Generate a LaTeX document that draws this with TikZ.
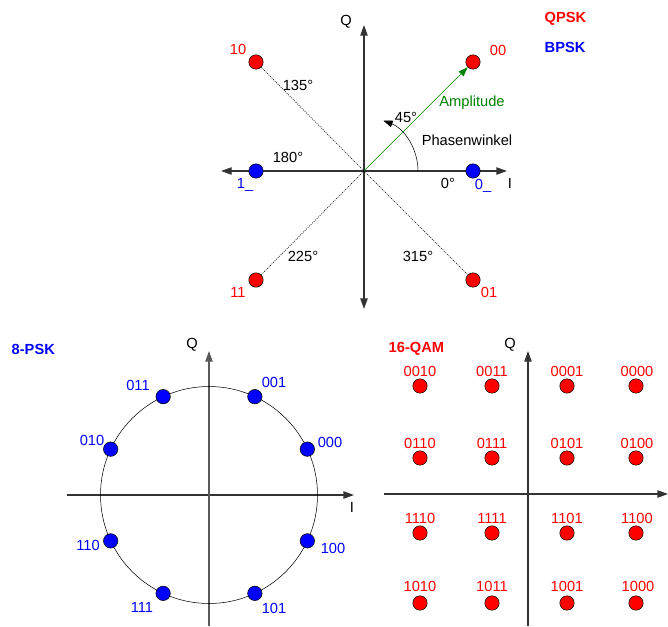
\documentclass[tikz,border=0pt]{standalone}
\usepackage{fontspec}
\setmainfont{Liberation Sans}
\usetikzlibrary{arrows.meta, positioning}

\begin{document}
\begin{tikzpicture}[x=0.75pt, y=-0.75pt, font=\fontsize{11}{13}\selectfont,
        >={Triangle[length=8pt, width=5.5pt]},
        rdot/.style = {draw, circle, fill=red, minimum size=10.8pt, inner sep=0pt},
        bdot/.style = {rdot, fill=blue},
        axis/.style = {line width=1pt, black!80},
        dots/.style = {dash pattern=on 0.8pt off 0.8pt},
        head/.style = {font=\fontsize{11}{13}\selectfont\bfseries, anchor=west}]
    \useasboundingbox (0,0) rectangle (668,626);

    % QPSK / BPSK
    \coordinate (c) at (364,171);
    \coordinate (xl) at (221,171);
    \coordinate (xr) at (507,171);
    \coordinate (yt) at (364,25);
    \coordinate (yb) at (364,309);
    \draw[axis, <->] (xl) -- (xr);
    \draw[axis, <->] (yb) -- (yt);
    \node[rdot] (q00) at (473,62) {};
    \node[rdot] (q10) at (256,62) {};
    \node[rdot] (q11) at (256,280) {};
    \node[rdot] (q01) at (473,280) {};
    \node[bdot] (b0) at (473,171) {};
    \node[bdot] (b1) at (256,171) {};
    \draw[dots] (c) -- (q10);
    \draw[dots] (c) -- (q11);
    \draw[dots] (c) -- (q01);
    \draw[green!50!black, -{Triangle[length=7pt, width=5pt]}] (c) -- (q00);
    \coordinate (a0) at (418,171);
    \draw[-{Triangle[length=7pt, width=5pt]}] (a0) arc[start angle=0, end angle=-69, radius=54];
    \node[red] (t00) at (498,50) {00};
    \node[red] (t10) at (238,49) {10};
    \node[red] (t11) at (238,292) {11};
    \node[red] (t01) at (489,292) {01};
    \node[blue] (t0) at (483,186) {0\_};
    \node[blue] (t1) at (245,185) {1\_};
    \node (qi) at (510,183) {I};
    \node (qq) at (346,22) {Q};
    \node (d0) at (448,183) {0°};
    \node (d45) at (406,117) {45°};
    \node (d135) at (298,85) {135°};
    \node (d180) at (288,157) {180°};
    \node (d225) at (303,256) {225°};
    \node (d315) at (418,256) {315°};
    \node (ph) at (467,140) {Phasenwinkel};
    \node[green!50!black] (amp) at (472,103) {Amplitude};
    \node[head, red] (qpsk) at (540,19) {QPSK};
    \node[head, blue] (bpsk) at (540,47) {BPSK};

    % 8-PSK
    \coordinate (p) at (209,495);
    \coordinate (pl) at (67,495);
    \coordinate (pr) at (354,495);
    \coordinate (pb) at (209,626);
    \coordinate (pt) at (209,351);
    \draw[axis, ->] (pl) -- (pr);
    \draw[axis, black!65, ->] (pb) -- (pt);
    \draw (p) circle[radius=108.5];
    \node[bdot] (p000) at ([shift={(-25:108.5)}]p) {};
    \node[bdot] (p001) at ([shift={(-65:108.5)}]p) {};
    \node[bdot] (p011) at ([shift={(-115:108.5)}]p) {};
    \node[bdot] (p010) at ([shift={(-155:108.5)}]p) {};
    \node[bdot] (p110) at ([shift={(-205:108.5)}]p) {};
    \node[bdot] (p111) at ([shift={(-245:108.5)}]p) {};
    \node[bdot] (p101) at ([shift={(-295:108.5)}]p) {};
    \node[bdot] (p100) at ([shift={(-335:108.5)}]p) {};
    \node[blue] (s000) at (330,442) {000};
    \node[blue] (s001) at (274,382) {001};
    \node[blue] (s011) at (138,385) {011};
    \node[blue] (s010) at (92,440) {010};
    \node[blue] (s110) at (88,545) {110};
    \node[blue] (s111) at (142,607) {111};
    \node[blue] (s101) at (274,608) {101};
    \node[blue] (s100) at (333,548) {100};
    \node (pq) at (192,345) {Q};
    \node (pi) at (352,507) {I};
    \node[head, blue] (psk) at (7,349) {8-PSK};

    % 16-QAM
    \coordinate (ml) at (384,494);
    \coordinate (mr) at (668,494);
    \coordinate (mb) at (528,626);
    \coordinate (mt) at (528,351);
    \draw[axis, ->] (ml) -- (mr);
    \draw[axis, ->] (mb) -- (mt);
    \node[rdot] (m0010) at (420,386) {};
    \node[rdot] (m0011) at (492,386) {};
    \node[rdot] (m0001) at (567,386) {};
    \node[rdot] (m0000) at (636,386) {};
    \node[rdot] (m0110) at (420,458) {};
    \node[rdot] (m0111) at (492,458) {};
    \node[rdot] (m0101) at (567,458) {};
    \node[rdot] (m0100) at (636,458) {};
    \node[rdot] (m1110) at (420,533) {};
    \node[rdot] (m1111) at (492,533) {};
    \node[rdot] (m1101) at (567,533) {};
    \node[rdot] (m1100) at (636,533) {};
    \node[rdot] (m1010) at (420,603) {};
    \node[rdot] (m1011) at (492,603) {};
    \node[rdot] (m1001) at (567,603) {};
    \node[rdot] (m1000) at (636,603) {};
    \node[red] (n0010) at (420,371) {0010};
    \node[red] (n0011) at (492,371) {0011};
    \node[red] (n0001) at (567,371) {0001};
    \node[red] (n0000) at (637,371) {0000};
    \node[red] (n0110) at (420,443) {0110};
    \node[red] (n0111) at (492,443) {0111};
    \node[red] (n0101) at (567,443) {0101};
    \node[red] (n0100) at (637,443) {0100};
    \node[red] (n1110) at (420,518) {1110};
    \node[red] (n1111) at (492,518) {1111};
    \node[red] (n1101) at (567,518) {1101};
    \node[red] (n1100) at (637,518) {1100};
    \node[red] (n1010) at (420,586) {1010};
    \node[red] (n1011) at (492,586) {1011};
    \node[red] (n1001) at (567,586) {1001};
    \node[red] (n1000) at (638,586) {1000};
    \node (mq) at (510,345) {Q};
    \node[head, red] (qam) at (384,349) {16-QAM};
\end{tikzpicture}
\end{document}
